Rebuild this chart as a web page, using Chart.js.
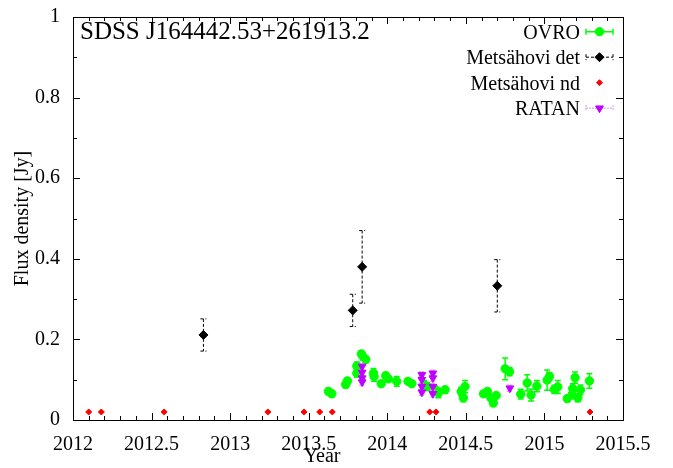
<!DOCTYPE html>
<html>
<head>
<meta charset="utf-8">
<script src="https://cdn.jsdelivr.net/npm/chart.js@4.4.0/dist/chart.umd.min.js"></script>
<style>
  html, body { margin: 0; padding: 0; background: #fff; }
  #c { display: block; }
</style>
</head>
<body>
<canvas id="c" width="673" height="468"></canvas>
<script>
// Light curve of SDSS J164442.53+261913.2

const sourceName = 'SDSS J164442.53+261913.2';
const xAxisTitle = 'Year';
const yAxisTitle = 'Flux density [Jy]';

// OVRO 15 GHz monitoring
const ovroYear = [2013.625, 2013.647, 2013.735, 2013.746, 2013.806, 2013.806, 2013.835, 2013.846, 2013.863,
  2013.912, 2013.916, 2013.961, 2013.990, 2014.007, 2014.060, 2014.132, 2014.156, 2014.234, 2014.253,
  2014.302, 2014.325, 2014.368, 2014.470, 2014.495, 2014.484, 2014.612, 2014.637, 2014.659, 2014.675,
  2014.693, 2014.750, 2014.778, 2014.849, 2014.890, 2014.915, 2014.952, 2015.017, 2015.032, 2015.063,
  2015.085, 2015.145, 2015.176, 2015.180, 2015.195, 2015.213, 2015.229, 2015.286];
const ovroFlux = [0.071, 0.065, 0.088, 0.097, 0.134, 0.116, 0.164, 0.157, 0.150,
  0.116, 0.108, 0.090, 0.110, 0.102, 0.096, 0.096, 0.090, 0.088, 0.083,
  0.077, 0.067, 0.075, 0.071, 0.083, 0.055, 0.065, 0.071, 0.055, 0.042,
  0.061, 0.127, 0.120, 0.064, 0.092, 0.062, 0.084, 0.099, 0.108, 0.076,
  0.082, 0.053, 0.063, 0.078, 0.105, 0.055, 0.075, 0.097];
const ovroErr = [0.008, 0.008, 0.008, 0.008, 0.010, 0.010, 0.008, 0.008, 0.008,
  0.012, 0.012, 0.006, 0.008, 0.008, 0.012, 0.006, 0.006, 0.010, 0.010,
  0.008, 0.012, 0.008, 0.010, 0.015, 0.010, 0.006, 0.006, 0.006, 0.008,
  0.006, 0.027, 0.010, 0.012, 0.020, 0.015, 0.014, 0.025, 0.010, 0.010,
  0.016, 0.008, 0.010, 0.012, 0.014, 0.010, 0.012, 0.018];

// Metsähovi 37 GHz detections
const metDetYear = [2012.83, 2013.78, 2013.84, 2014.70];
const metDetFlux = [0.211, 0.272, 0.380, 0.333];
const metDetErr  = [0.040, 0.040, 0.090, 0.065];

// Metsähovi non-detections
const metNdYear = [2012.10, 2012.18, 2012.58, 2013.24, 2013.47, 2013.57, 2013.65, 2014.27, 2014.31, 2015.29];
const metNdFlux = [0.02, 0.02, 0.02, 0.02, 0.02, 0.02, 0.02, 0.02, 0.02, 0.02];

// RATAN-600 multi-frequency
const ratanYear = [2013.84, 2013.84, 2013.84, 2013.84, 2014.22, 2014.22, 2014.22, 2014.22,
  2014.29, 2014.29, 2014.29, 2014.29, 2014.78];
const ratanFlux = [0.133, 0.118, 0.104, 0.094, 0.112, 0.100, 0.083, 0.069,
  0.116, 0.104, 0.083, 0.065, 0.079];
const ratanErr  = [0.008, 0.008, 0.008, 0.008, 0.008, 0.008, 0.008, 0.008,
  0.008, 0.008, 0.008, 0.008, 0.008];

// Axis ticks
const xTickValues = [2012, 2012.5, 2013, 2013.5, 2014, 2014.5, 2015, 2015.5];
const xTickLabels = ['2012', '2012.5', '2013', '2013.5', '2014', '2014.5', '2015', '2015.5'];
const yTickValues = [0, 0.2, 0.4, 0.6, 0.8, 1];
const yTickLabels = ['0', '0.2', '0.4', '0.6', '0.8', '1'];

const SERIF = '"Liberation Serif", "DejaVu Serif", serif';

function pts(xs, ys) { return xs.map((x, i) => ({ x: x, y: ys[i] })); }

const green = '#00ff00';
const violet = '#c000ff';

const datasets = [
  { label: 'RATAN', data: pts(ratanYear, ratanFlux), errors: ratanErr,
    pointStyle: 'triangle', rotation: 180, radius: 4.5, backgroundColor: violet, borderColor: violet, borderWidth: 1,
    errColor: '#d890ff', errDash: [2, 1], errWidth: 1, capHalf: 3, order: 1 },
  { label: 'Metsähovi nd', data: pts(metNdYear, metNdFlux),
    pointStyle: 'rectRot', radius: 3, backgroundColor: '#ff0000', borderColor: '#ff0000', borderWidth: 1, order: 2 },
  { label: 'Metsähovi det', data: pts(metDetYear, metDetFlux), errors: metDetErr,
    pointStyle: 'rectRot', radius: 4.5, backgroundColor: '#000', borderColor: '#000', borderWidth: 1,
    errColor: '#000', errDash: [3, 2], errWidth: 1, capHalf: 3, order: 3 },
  { label: 'OVRO', data: pts(ovroYear, ovroFlux), errors: ovroErr,
    pointStyle: 'circle', radius: 4.2, backgroundColor: green, borderColor: green, borderWidth: 1,
    errColor: green, errDash: [], errWidth: 1.5, capHalf: 3, order: 4 }
];

// vertical error bars, drawn under each dataset's own markers
const errorBars = {
  id: 'errorBars',
  beforeDatasetDraw(chart, args) {
    const ds = chart.data.datasets[args.index];
    if (!ds.errors) return;
    const xs = chart.scales.x, ys = chart.scales.y, ctx = chart.ctx;
    ctx.save();
    ctx.strokeStyle = ds.errColor;
    ctx.lineWidth = ds.errWidth;
    ctx.setLineDash(ds.errDash);
    ds.data.forEach((p, i) => {
      const px = xs.getPixelForValue(p.x);
      const top = ys.getPixelForValue(p.y + ds.errors[i]);
      const bot = ys.getPixelForValue(p.y - ds.errors[i]);
      ctx.beginPath();
      ctx.moveTo(px, top); ctx.lineTo(px, bot);
      ctx.moveTo(px - ds.capHalf, top); ctx.lineTo(px + ds.capHalf, top);
      ctx.moveTo(px - ds.capHalf, bot); ctx.lineTo(px + ds.capHalf, bot);
      ctx.stroke();
    });
    ctx.restore();
  }
};

// plot frame with inward ticks on all four sides, axis label, title and key
const frame = {
  id: 'frame',
  afterDraw(chart) {
    const { ctx, chartArea: a } = chart;
    const xs = chart.scales.x, ys = chart.scales.y;
    ctx.save();
    ctx.strokeStyle = '#000';
    ctx.lineWidth = 1;
    ctx.setLineDash([]);
    ctx.strokeRect(Math.round(a.left) + 0.5, Math.round(a.top) + 0.5,
      Math.round(a.right - a.left), Math.round(a.bottom - a.top));
    ctx.beginPath();
    for (let k = 0; k <= 35; k++) {
      const v = 2012 + k * 0.1;
      const len = (k % 5 === 0) ? 7 : 4;
      const px = Math.round(xs.getPixelForValue(v)) + 0.5;
      ctx.moveTo(px, a.bottom); ctx.lineTo(px, a.bottom - len);
      ctx.moveTo(px, a.top); ctx.lineTo(px, a.top + len);
    }
    for (let k = 0; k <= 10; k++) {
      const v = k * 0.1;
      const len = (k % 2 === 0) ? 7 : 4;
      const py = Math.round(ys.getPixelForValue(v)) + 0.5;
      ctx.moveTo(a.left, py); ctx.lineTo(a.left + len, py);
      ctx.moveTo(a.right, py); ctx.lineTo(a.right - len, py);
    }
    ctx.stroke();

    ctx.fillStyle = '#000';
    ctx.textBaseline = 'alphabetic';

    // x-axis label, sitting a little left of the plot centre
    ctx.font = '20px ' + SERIF;
    ctx.textAlign = 'center';
    ctx.fillText(xAxisTitle, xs.getPixelForValue(2013.585), 462);

    // source name
    ctx.font = '25px ' + SERIF;
    ctx.textAlign = 'left';
    ctx.fillText(sourceName, a.left + 7, 39);

    // key
    const order = ['OVRO', 'Metsähovi det', 'Metsähovi nd', 'RATAN'];
    const textRight = 580, sx0 = 586, sx1 = 613, mx = 599.5;
    ctx.font = '20px ' + SERIF;
    ctx.textAlign = 'right';
    order.forEach((name, r) => {
      const ds = chart.data.datasets.find(d => d.label === name);
      const cy = 31.7 + r * 25.5;
      ctx.fillStyle = '#000';
      ctx.fillText(name, textRight, cy + 6.8);
      if (ds.errors) {
        ctx.save();
        ctx.strokeStyle = ds.errColor;
        ctx.lineWidth = ds.errWidth;
        ctx.setLineDash(ds.errDash);
        ctx.beginPath();
        ctx.moveTo(sx0, cy); ctx.lineTo(sx1, cy);
        ctx.moveTo(sx0, cy - 3); ctx.lineTo(sx0, cy + 3);
        ctx.moveTo(sx1, cy - 3); ctx.lineTo(sx1, cy + 3);
        ctx.stroke();
        ctx.restore();
      }
      ctx.save();
      ctx.fillStyle = ds.backgroundColor;
      ctx.strokeStyle = ds.borderColor;
      ctx.lineWidth = ds.borderWidth;
      Chart.helpers.drawPoint(ctx, { pointStyle: ds.pointStyle, radius: ds.radius,
        rotation: ds.rotation || 0, borderWidth: ds.borderWidth }, mx, cy);
      ctx.restore();
    });
    ctx.restore();
  }
};

new Chart(document.getElementById('c'), {
  type: 'scatter',
  data: { datasets: datasets },
  options: {
    responsive: false,
    animation: false,
    devicePixelRatio: 1,
    layout: { padding: { left: 0, right: 50, top: 15, bottom: 0 } },
    plugins: { legend: { display: false }, tooltip: { enabled: false } },
    elements: { point: { hoverRadius: 4.5 } },
    scales: {
      x: {
        type: 'linear', min: 2012, max: 2015.5,
        afterBuildTicks: s => { s.ticks = xTickValues.map(v => ({ value: v })); },
        afterFit: s => { s.height = 48; },
        grid: { display: false },
        border: { display: false },
        ticks: { color: '#000', font: { family: SERIF, size: 20 }, padding: 5, maxRotation: 0, autoSkip: false,
          callback: (v, i) => xTickLabels[i] },
        title: { display: false }
      },
      y: {
        type: 'linear', min: 0, max: 1,
        afterBuildTicks: s => { s.ticks = yTickValues.map(v => ({ value: v })); },
        afterFit: s => { s.width = 73; },
        grid: { display: false },
        border: { display: false },
        ticks: { color: '#000', font: { family: SERIF, size: 20 }, padding: 5, autoSkip: false,
          callback: (v, i) => yTickLabels[i] },
        title: { display: true, text: yAxisTitle, color: '#000', font: { family: SERIF, size: 20, lineHeight: 1 }, padding: { top: 13 } }
      }
    }
  },
  plugins: [errorBars, frame]
});
</script>
</body>
</html>
